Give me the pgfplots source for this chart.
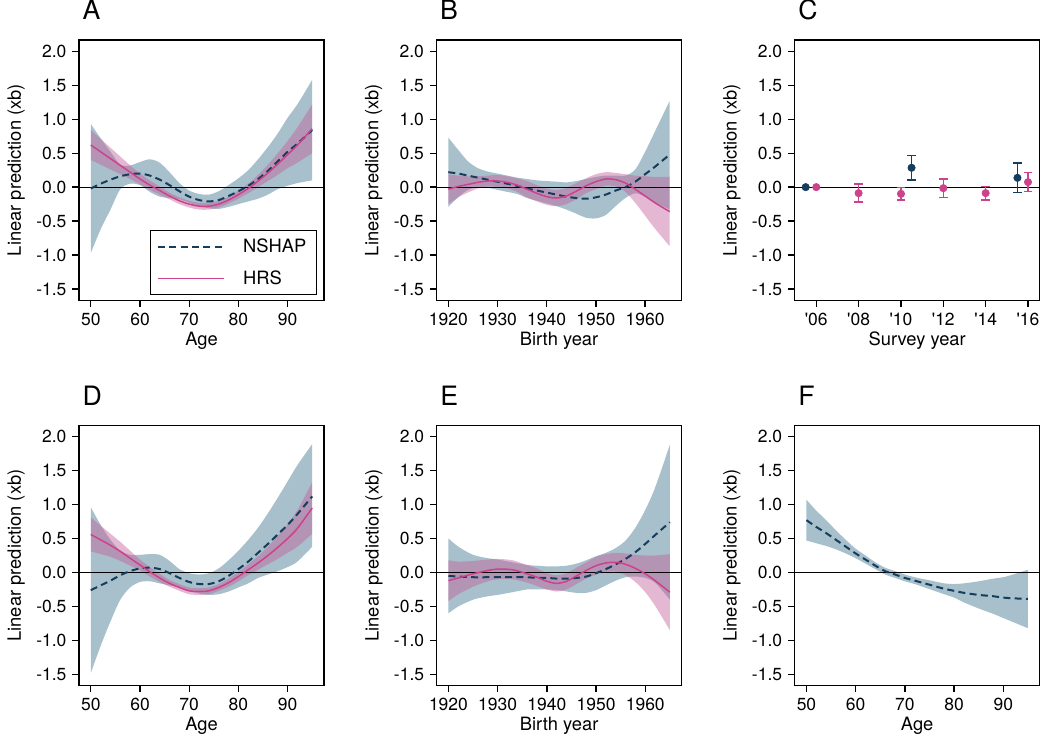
\documentclass[border=0pt]{standalone}
\usepackage{fontspec}
\setmainfont{TeX Gyre Heros}
\usepackage{pgfplots}
\usepackage{pgfplotstable}
\pgfplotsset{compat=1.18}
\usepgfplotslibrary{fillbetween}

\definecolor{nsline}{RGB}{22,62,92}
\definecolor{nsband}{RGB}{168,192,203}
\definecolor{hrsline}{RGB}{204,66,140}
\definecolor{hrsband}{RGB}{196,96,156}

% x  NSHAP: n nu nd   HRS: h hu hd
\pgfplotstableread{
x n nu nd h hu hd
50 -0.02 0.93 -0.97 0.62 0.84 0.40
52 0.05 0.72 -0.62 0.52 0.71 0.33
54 0.11 0.52 -0.33 0.42 0.58 0.26
56 0.16 0.33 -0.03 0.32 0.45 0.19
58 0.19 0.32 0.05 0.22 0.32 0.12
60 0.20 0.37 0.03 0.12 0.20 0.04
62 0.17 0.41 -0.07 0.03 0.10 -0.04
64 0.11 0.36 -0.14 -0.05 0.01 -0.11
66 0.03 0.22 -0.16 -0.13 -0.08 -0.18
68 -0.06 0.06 -0.18 -0.20 -0.15 -0.25
70 -0.14 -0.05 -0.23 -0.25 -0.20 -0.30
72 -0.19 -0.10 -0.28 -0.28 -0.23 -0.33
74 -0.21 -0.11 -0.31 -0.28 -0.23 -0.33
76 -0.19 -0.06 -0.32 -0.25 -0.20 -0.30
78 -0.13 0.03 -0.29 -0.19 -0.14 -0.24
80 -0.06 0.13 -0.25 -0.11 -0.05 -0.17
82 0.02 0.25 -0.21 -0.02 0.05 -0.09
84 0.12 0.41 -0.17 0.09 0.18 0.00
86 0.24 0.59 -0.11 0.21 0.33 0.09
88 0.38 0.79 -0.03 0.34 0.50 0.18
90 0.52 1.02 0.02 0.48 0.68 0.28
92 0.64 1.22 0.06 0.62 0.88 0.36
95 0.84 1.58 0.10 0.86 1.22 0.50
}\tabA

\pgfplotstableread{
x n nu nd h hu hd
1920 0.22 0.73 -0.29 -0.03 0.19 -0.25
1922 0.20 0.55 -0.15 0.01 0.17 -0.15
1924 0.17 0.38 -0.04 0.04 0.16 -0.08
1926 0.14 0.28 0.00 0.07 0.16 -0.02
1928 0.11 0.23 -0.01 0.09 0.17 0.01
1930 0.08 0.20 -0.04 0.09 0.18 0.00
1932 0.05 0.17 -0.07 0.07 0.16 -0.02
1934 0.02 0.14 -0.10 0.03 0.13 -0.07
1936 -0.02 0.12 -0.16 -0.03 0.09 -0.15
1938 -0.05 0.10 -0.20 -0.09 0.03 -0.21
1940 -0.08 0.09 -0.24 -0.14 -0.02 -0.26
1942 -0.11 0.08 -0.28 -0.16 -0.04 -0.28
1944 -0.14 0.07 -0.33 -0.13 -0.01 -0.25
1946 -0.16 0.09 -0.39 -0.06 0.06 -0.18
1948 -0.17 0.12 -0.45 0.02 0.13 -0.09
1950 -0.15 0.15 -0.46 0.08 0.19 -0.03
1952 -0.11 0.17 -0.41 0.12 0.22 0.02
1954 -0.05 0.17 -0.28 0.11 0.21 0.01
1956 0.00 0.17 -0.16 0.06 0.19 -0.07
1958 0.08 0.26 -0.09 -0.03 0.17 -0.23
1960 0.19 0.52 -0.14 -0.13 0.16 -0.42
1962 0.30 0.82 -0.22 -0.23 0.15 -0.61
1965 0.48 1.27 -0.33 -0.36 0.15 -0.87
}\tabB

\pgfplotstableread{
x n nu nd h hu hd
50 -0.26 0.96 -1.48 0.56 0.81 0.31
52 -0.19 0.70 -1.08 0.48 0.69 0.27
54 -0.12 0.48 -0.72 0.40 0.57 0.23
56 -0.04 0.32 -0.40 0.31 0.45 0.17
58 0.02 0.26 -0.22 0.21 0.32 0.10
60 0.06 0.26 -0.14 0.11 0.19 0.03
62 0.07 0.27 -0.13 0.01 0.08 -0.06
64 0.05 0.26 -0.16 -0.08 -0.02 -0.14
66 -0.01 0.17 -0.19 -0.16 -0.11 -0.21
68 -0.08 0.05 -0.22 -0.22 -0.17 -0.27
70 -0.14 -0.01 -0.27 -0.27 -0.22 -0.32
72 -0.17 -0.03 -0.31 -0.28 -0.23 -0.33
74 -0.17 -0.01 -0.33 -0.27 -0.22 -0.32
76 -0.13 0.06 -0.32 -0.22 -0.17 -0.27
78 -0.05 0.18 -0.28 -0.15 -0.09 -0.21
80 0.05 0.32 -0.22 -0.06 0.01 -0.13
82 0.16 0.48 -0.16 0.04 0.12 -0.04
84 0.29 0.66 -0.08 0.14 0.24 0.04
86 0.42 0.87 -0.03 0.25 0.38 0.12
88 0.56 1.10 0.02 0.37 0.54 0.20
90 0.70 1.34 0.08 0.50 0.71 0.29
92 0.86 1.58 0.16 0.65 0.92 0.38
95 1.12 1.89 0.38 0.95 1.33 0.57
}\tabD

\pgfplotstableread{
x n nu nd h hu hd
1920 -0.05 0.50 -0.60 -0.12 0.18 -0.42
1922 -0.06 0.38 -0.50 -0.08 0.16 -0.32
1925 -0.07 0.26 -0.40 -0.02 0.17 -0.21
1928 -0.07 0.21 -0.35 0.03 0.19 -0.13
1930 -0.07 0.19 -0.33 0.05 0.20 -0.10
1933 -0.07 0.15 -0.29 0.04 0.18 -0.10
1936 -0.07 0.11 -0.25 -0.02 0.11 -0.15
1938 -0.08 0.10 -0.25 -0.07 0.06 -0.20
1940 -0.08 0.09 -0.25 -0.13 -0.01 -0.25
1942 -0.09 0.09 -0.26 -0.16 -0.04 -0.28
1944 -0.09 0.10 -0.28 -0.13 -0.01 -0.25
1946 -0.08 0.13 -0.30 -0.05 0.07 -0.17
1948 -0.06 0.18 -0.30 0.03 0.15 -0.09
1950 -0.01 0.24 -0.26 0.10 0.23 -0.03
1952 0.05 0.29 -0.19 0.14 0.27 0.01
1954 0.12 0.36 -0.12 0.15 0.29 0.01
1956 0.20 0.47 -0.07 0.12 0.28 -0.04
1958 0.30 0.66 -0.06 0.06 0.26 -0.14
1960 0.42 0.92 -0.08 -0.02 0.25 -0.29
1962 0.55 1.25 -0.15 -0.12 0.25 -0.49
1965 0.74 1.88 -0.40 -0.29 0.27 -0.85
}\tabE

\pgfplotstableread{
x n nu nd
50 0.77 1.07 0.47
52 0.67 0.91 0.43
54 0.58 0.77 0.39
56 0.48 0.62 0.34
58 0.38 0.48 0.28
60 0.28 0.35 0.21
62 0.19 0.25 0.13
64 0.10 0.15 0.05
66 0.02 0.07 -0.03
68 -0.03 0.02 -0.08
70 -0.08 -0.03 -0.13
72 -0.12 -0.07 -0.17
74 -0.16 -0.10 -0.22
76 -0.20 -0.13 -0.27
78 -0.24 -0.16 -0.32
80 -0.27 -0.17 -0.37
82 -0.30 -0.16 -0.44
85 -0.33 -0.13 -0.53
88 -0.35 -0.09 -0.61
90 -0.37 -0.07 -0.67
92 -0.38 -0.03 -0.73
95 -0.39 0.04 -0.82
}\tabF

\pgfplotsset{
  panel/.style={
    scale only axis, width=147pt, height=156.3pt, anchor=north west,
    ymin=-1.667, ymax=2.167,
    ytick={-1.5,-1,-0.5,0,0.5,1,1.5,2},
    axis line style={line width=0.8pt},
    every tick/.style={black, line width=0.8pt},
    major tick length=4pt,
    tick align=outside, tick pos=left,
    tick label style={font=\fontsize{10.5}{12}\selectfont},
    label style={font=\fontsize{11}{13}\selectfont},
    xlabel style={yshift=3pt},
    /pgf/number format/assume math mode=true,
    yticklabel style={/pgf/number format/.cd, fixed, fixed zerofill, precision=1},
    xticklabel style={/pgf/number format/.cd, fixed, precision=0, 1000 sep={}},
    ylabel={Linear prediction (xb)},
    title style={at={(0,1)}, anchor=base west, xshift=2pt, yshift=6pt,
      inner sep=0pt, font=\fontsize{16}{18}\selectfont},
  },
  agex/.style={xmin=47.6, xmax=97.4, xtick={50,60,70,80,90}, xlabel={Age}},
  yearx/.style={xmin=1917.6, xmax=1967.4, xtick={1920,1930,1940,1950,1960}, xlabel={Birth year}},
  edge/.style={draw=none, smooth, forget plot, no marks},
  nsb/.style={fill=nsband, draw=none, forget plot},
  hrb/.style={fill=hrsband, fill opacity=0.45, draw=none, forget plot},
  nsl/.style={nsline, line width=1.2pt, dash pattern=on 4.2pt off 2.6pt, smooth, no marks},
  hrl/.style={hrsline, line width=0.9pt, smooth, no marks},
}

\newcommand{\zeroline}[1]{\draw[black, line width=0.6pt] ({rel axis cs:0,0}|-{axis cs:#1,0}) -- ({rel axis cs:1,0}|-{axis cs:#1,0});}

\newcommand{\twoseries}[2]{%
  \addplot[edge, name path=nu] table[x=x,y=nu] {#1};
  \addplot[edge, name path=nd] table[x=x,y=nd] {#1};
  \addplot[nsb] fill between[of=nu and nd];
  \addplot[edge, name path=hu] table[x=x,y=hu] {#1};
  \addplot[edge, name path=hd] table[x=x,y=hd] {#1};
  \addplot[hrb] fill between[of=hu and hd];
  \zeroline{#2}
  \addplot[nsl] table[x=x,y=n] {#1};
  \addplot[hrl] table[x=x,y=h] {#1};
}

\begin{document}
\begin{tikzpicture}

% A
\begin{axis}[panel, agex, at={(47.4pt,423pt)}, title={A},
  legend style={at={(0.971,0.019)}, anchor=south east, draw=black, line width=0.6pt,
    font=\fontsize{11}{13}\selectfont, inner xsep=4pt, inner ysep=3pt, row sep=5.5pt,
    /tikz/every odd column/.append style={column sep=9pt}},
  legend cell align=left,
  legend image code/.code={\draw[#1] (0pt,0pt) -- (39.6pt,0pt);}]
\twoseries{\tabA}{72}
\legend{NSHAP, HRS}
\end{axis}

% B
\begin{axis}[panel, yearx, at={(261.9pt,423pt)}, title={B}]
\twoseries{\tabB}{1940}
\end{axis}

% C
\begin{axis}[panel, at={(476.8pt,423pt)}, title={C},
  xmin=2004.98, xmax=2016.55, xtick={2006,2008,2010,2012,2014,2016},
  xticklabels={\textquotesingle06,\textquotesingle08,\textquotesingle10,\textquotesingle12,\textquotesingle14,\textquotesingle16},
  xlabel={Survey year}]
\zeroline{2010}
\addplot[only marks, mark=*, mark size=2.2pt, color=nsline] coordinates {(2005.5,0)};
\addplot[only marks, mark=*, mark size=2.2pt, color=hrsline] coordinates {(2006,0)};
\addplot[only marks, mark=*, mark size=2.2pt, color=nsline,
  error bars/.cd, y dir=both, y explicit,
  error bar style={line width=0.8pt},
  error mark options={mark size=2.6pt, line width=0.8pt, rotate=90}]
  coordinates {(2010.5,0.285) +- (0,0.18) (2015.5,0.137) +- (0,0.216)};
\addplot[only marks, mark=*, mark size=2.2pt, color=hrsline,
  error bars/.cd, y dir=both, y explicit,
  error bar style={line width=0.8pt},
  error mark options={mark size=2.6pt, line width=0.8pt, rotate=90}]
  coordinates {(2008,-0.088) +- (0,0.133) (2010,-0.098) +- (0,0.09)
    (2012,-0.015) +- (0,0.135) (2014,-0.088) +- (0,0.10) (2016,0.074) +- (0,0.14)};
\end{axis}

% D
\begin{axis}[panel, agex, at={(47.4pt,191.8pt)}, title={D}]
\twoseries{\tabD}{72}
\end{axis}

% E
\begin{axis}[panel, yearx, at={(262pt,191.8pt)}, title={E}]
\twoseries{\tabE}{1940}
\end{axis}

% F
\begin{axis}[panel, agex, at={(476.8pt,191.8pt)}, title={F}]
\addplot[edge, name path=nu] table[x=x,y=nu] {\tabF};
\addplot[edge, name path=nd] table[x=x,y=nd] {\tabF};
\addplot[nsb] fill between[of=nu and nd];
\zeroline{72}
\addplot[nsl] table[x=x,y=n] {\tabF};
\end{axis}

\path (0,0) rectangle (630pt,445.2pt);
\end{tikzpicture}
\end{document}
